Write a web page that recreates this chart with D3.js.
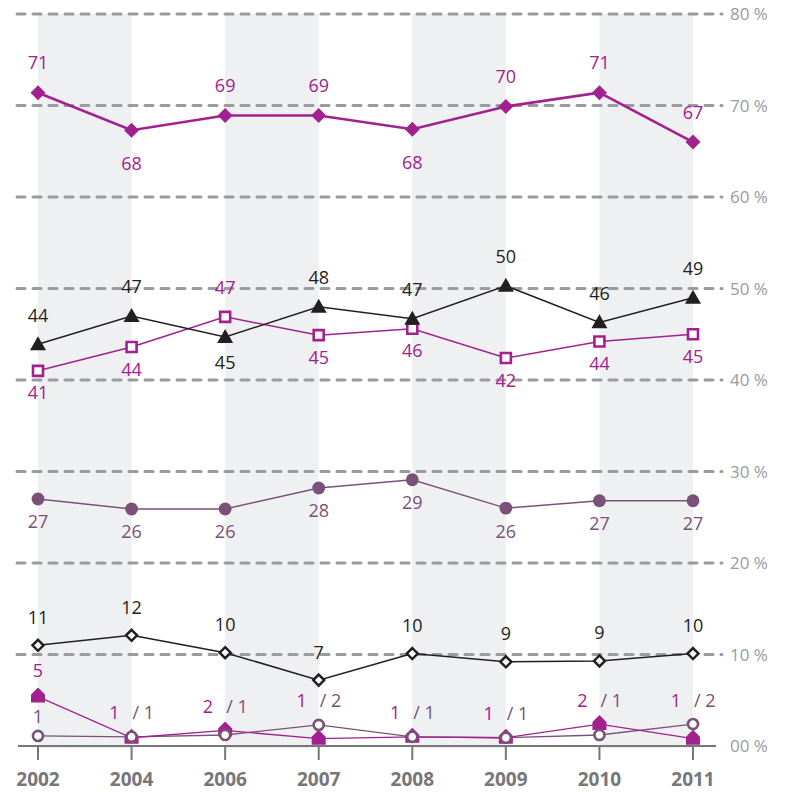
<!DOCTYPE html>
<html><head><meta charset="utf-8">
<script src="https://cdn.jsdelivr.net/npm/d3@7"></script>
<style>body{margin:0;background:#fff}svg{display:block}text{font-family:"Open Sans",sans-serif}</style>
</head><body><svg id="c" width="788" height="792"></svg>
<script>
const years = ["2002","2004","2006","2007","2008","2009","2010","2011"];
const yTicks = [0,10,20,30,40,50,60,70,80];
const tickLabels = ["00 %","10 %","20 %","30 %","40 %","50 %","60 %","70 %","80 %"];

const s1 = [71.4,67.3,68.9,68.9,67.4,69.9,71.4,66.0];
const s1Labels = ["71","68","69","69","68","70","71","67"];
const s2 = [43.9,47.0,44.7,48.0,46.7,50.3,46.3,49.0];
const s2Labels = ["44","47","45","48","47","50","46","49"];
const s3 = [41.0,43.6,46.9,44.9,45.6,42.4,44.2,45.0];
const s3Labels = ["41","44","47","45","46","42","44","45"];
const s4 = [27.0,25.9,25.9,28.2,29.1,26.0,26.8,26.8];
const s4Labels = ["27","26","26","28","29","26","27","27"];
const s5 = [11.0,12.1,10.2,7.2,10.1,9.2,9.3,10.1];
const s5Labels = ["11","12","10","7","10","9","9","10"];
const s6 = [5.4,0.9,1.7,0.8,1.0,0.9,2.4,0.8];
const s6Labels = ["5","1","2","1","1","1","2","1"];
const s7 = [1.1,1.0,1.2,2.3,1.0,0.9,1.2,2.4];
const s7Labels = ["1","1","1","2","1","1","1","2"];

// label placement (a = above, b = below)
const s1Pos = ["a","b","a","a","b","a","a","a"];
const s2Pos = ["a","a","b","a","a","a","a","a"];
const s3Pos = ["b","b","a","b","b","b","b","b"];
const s4Pos = ["b","b","b","b","b","b","b","b"];
const s5Pos = ["a","a","a","a","a","a","a","a"];

const MAG = "#a3218e", PUR = "#7a5278", BLK = "#231f20", GRID = "#9b9b9d";
const FS = 18;
const svg = d3.select("#c");
const x = d3.scalePoint().domain(years).range([38, 693]);
const y = d3.scaleLinear().domain([0, 80]).range([746, 14]);

// shaded bands
const g0 = svg.append("g");
for (let i = 0; i < years.length; i += 2) {
  g0.append("rect").attr("x", x(years[i])).attr("y", y(80))
    .attr("width", x(years[i+1]) - x(years[i])).attr("height", y(0) - y(80) + 2)
    .attr("fill", "#eff0f2");
}
// gridlines
yTicks.filter(d => d > 0).forEach(t => {
  svg.append("line").attr("x1", 17).attr("x2", 722).attr("y1", y(t)).attr("y2", y(t))
    .attr("stroke", GRID).attr("stroke-width", 3).attr("stroke-dasharray", "8,8")
    .attr("stroke-linecap", "round");
});
yTicks.forEach((t, i) => {
  svg.append("text").attr("x", 730).attr("y", y(t)).attr("dy", "0.36em")
    .attr("fill", "#9b9b9d").attr("font-size", 17).text(tickLabels[i]);
});
// bottom axis
svg.append("line").attr("x1", 18).attr("x2", 716).attr("y1", y(0)).attr("y2", y(0))
  .attr("stroke", "#77777a").attr("stroke-width", 2);
years.forEach(yr => {
  svg.append("line").attr("x1", x(yr)).attr("x2", x(yr)).attr("y1", y(0)).attr("y2", y(0) + 14)
    .attr("stroke", "#77777a").attr("stroke-width", 2);
  svg.append("text").attr("x", x(yr)).attr("y", 786).attr("text-anchor", "middle")
    .attr("fill", "#77777a").attr("font-size", 19).attr("font-weight", "bold").text(yr);
});

const line = d3.line().x((d, i) => x(years[i])).y(d => y(d));
function drawLine(vals, color, w) {
  svg.append("path").datum(vals).attr("d", line).attr("fill", "none")
    .attr("stroke", color).attr("stroke-width", w);
}
function sym(type, size) { return d3.symbol().type(type).size(size)(); }
const housePath = "M-7,-1 L0,-8 L7,-1 L7,7 L-7,7 Z";
function markers(vals, path, fill, stroke, sw, dy) {
  vals.forEach((v, i) => {
    svg.append("path").attr("d", path).attr("transform", `translate(${x(years[i])},${y(v) + (dy||0)})`)
      .attr("fill", fill).attr("stroke", stroke).attr("stroke-width", sw);
  });
}
function labels(vals, labs, pos, color, up, down) {
  vals.forEach((v, i) => {
    svg.append("text").attr("x", x(years[i]))
      .attr("y", y(v) + (pos[i] === "a" ? -up : down)).attr("dy", "0.36em")
      .attr("text-anchor", "middle").attr("fill", color).attr("font-size", FS).text(labs[i]);
  });
}

// series 4 (purple filled circles)
drawLine(s4, PUR, 1.5);
markers(s4, sym(d3.symbolCircle, 130), PUR, "none", 0);
labels(s4, s4Labels, s4Pos, PUR, 24, 23);

// series 3 (magenta open squares)
drawLine(s3, MAG, 1.5);
markers(s3, "M-5,-5H5V5H-5Z", "#fff", MAG, 2.6);
labels(s3, s3Labels, s3Pos, MAG, 29, 22);

// series 2 (black triangles)
drawLine(s2, BLK, 1.5);
markers(s2, "M0,-8 L8,6 L-8,6 Z", BLK, "none", 0);
labels(s2, s2Labels, s2Pos, BLK, 29, 26);

// series 1 (magenta diamonds)
drawLine(s1, MAG, 2.6);
markers(s1, "M0,-7.5 L7.5,0 L0,7.5 L-7.5,0 Z", MAG, "none", 0);
labels(s1, s1Labels, s1Pos, MAG, 30, 33);

// series 5 (black open diamonds)
drawLine(s5, BLK, 1.5);
markers(s5, "M0,-5.5 L5.5,0 L0,5.5 L-5.5,0 Z", "#fff", BLK, 2.5);
labels(s5, s5Labels, s5Pos, BLK, 28, 22);

// series 7 (purple open circles) and series 6 (magenta house)
drawLine(s7, PUR, 1.3);
drawLine(s6, MAG, 1.3);
markers(s6, housePath, MAG, "none", 0, -1);
markers(s7, sym(d3.symbolCircle, 80), "#fff", PUR, 2.6);

// bottom labels
svg.append("text").attr("x", x(years[0])).attr("y", y(s6[0]) - 26).attr("dy", "0.36em")
  .attr("text-anchor", "middle").attr("fill", MAG).attr("font-size", FS).text(s6Labels[0]);
svg.append("text").attr("x", x(years[0])).attr("y", y(s7[0]) - 19).attr("dy", "0.36em")
  .attr("text-anchor", "middle").attr("fill", PUR).attr("font-size", FS).text(s7Labels[0]);
for (let i = 1; i < years.length; i++) {
  const ly = y(Math.max(s6[i], s7[i])) - 24;
  svg.append("text").attr("x", x(years[i]) - 12).attr("y", ly).attr("dy", "0.36em")
    .attr("text-anchor", "end").attr("fill", MAG).attr("font-size", FS).text(s6Labels[i]);
  svg.append("text").attr("x", x(years[i]) + 1).attr("y", ly).attr("dy", "0.36em")
    .attr("text-anchor", "start").attr("fill", PUR).attr("font-size", FS).text("/ " + s7Labels[i]);
}
</script></body></html>
